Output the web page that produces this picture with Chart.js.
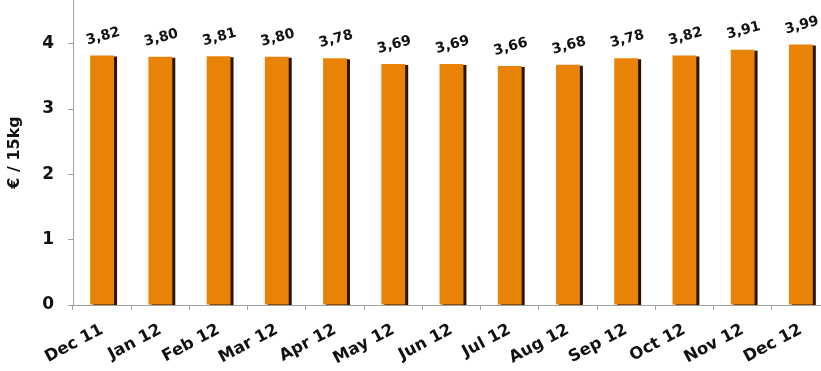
<!DOCTYPE html>
<html>
<head>
<meta charset="utf-8">
<script src="https://cdn.jsdelivr.net/npm/chart.js@4.4.1/dist/chart.umd.min.js"></script>
<style>
  html, body { margin: 0; padding: 0; background: #fff; overflow: hidden; }
  #wrap { width: 830px; height: 371px; position: relative; }
</style>
</head>
<body>
<div id="wrap"><canvas id="priceChart"></canvas></div>
<script>
const months = ['Dec 11', 'Jan 12', 'Feb 12', 'Mar 12', 'Apr 12', 'May 12', 'Jun 12',
  'Jul 12', 'Aug 12', 'Sep 12', 'Oct 12', 'Nov 12', 'Dec 12'];
const prices = [3.82, 3.80, 3.81, 3.80, 3.78, 3.69, 3.69, 3.66, 3.68, 3.78, 3.82, 3.91, 3.99];
const yTicks = [0, 1, 2, 3, 4];

const font = 'DejaVu Sans, Verdana, sans-serif';

// dark drop shadow on the right side of each bar
const barShadow = {
  id: 'barShadow',
  beforeDatasetsDraw(chart) {
    const ctx = chart.ctx;
    ctx.save();
    ctx.shadowColor = '#2a1503';
    ctx.shadowOffsetX = 3;
    ctx.shadowOffsetY = 1;
    ctx.shadowBlur = 0;
  },
  afterDatasetsDraw(chart) {
    chart.ctx.restore();
  }
};

// tilted value labels above bars
const valueLabels = {
  id: 'valueLabels',
  afterDatasetsDraw(chart) {
    const ctx = chart.ctx;
    const meta = chart.getDatasetMeta(0);
    ctx.save();
    ctx.font = 'bold 14px ' + font;
    ctx.fillStyle = '#111';
    ctx.textAlign = 'center';
    ctx.textBaseline = 'middle';
    meta.data.forEach((bar, i) => {
      ctx.save();
      ctx.translate(bar.x + 1, bar.y - 19);
      ctx.rotate(-15 * Math.PI / 180);
      ctx.fillText(prices[i].toFixed(2).replace('.', ','), 0, 0);
      ctx.restore();
    });
    ctx.restore();
  }
};

new Chart(document.getElementById('priceChart'), {
  type: 'bar',
  data: {
    labels: months,
    datasets: [{
      data: prices,
      backgroundColor: '#E98308',
      borderWidth: 0,
      categoryPercentage: 1,
      barPercentage: 0.41
    }]
  },
  options: {
    responsive: true,
    maintainAspectRatio: false,
    animation: false,
    layout: { padding: 0 },
    plugins: {
      legend: { display: false },
      tooltip: { enabled: false }
    },
    scales: {
      x: {
        grid: { drawOnChartArea: false, color: '#a0a0a0', tickLength: 5 },
        border: { color: '#a0a0a0' },
        ticks: {
          color: '#111',
          font: { family: font, size: 16.5, weight: 'bold' },
          minRotation: 28,
          maxRotation: 28,
          padding: 10
        },
        afterFit(scale) {
          scale.height = 66;
          scale.paddingLeft = 0;
          scale.paddingRight = 0;
        }
      },
      y: {
        min: 0,
        max: 4.67,
        grid: { drawOnChartArea: false, color: '#a0a0a0', tickLength: 5 },
        border: { color: '#a0a0a0' },
        afterBuildTicks(scale) {
          scale.ticks = yTicks.map(v => ({ value: v }));
        },
        ticks: {
          color: '#111',
          font: { family: font, size: 17, weight: 'bold' },
          padding: 14
        },
        title: {
          display: true,
          text: '€ / 15kg',
          color: '#111',
          font: { family: font, size: 16, weight: 'bold' },
          padding: { top: 5, bottom: 0 }
        },
        afterFit(scale) {
          scale.width = 73;
          scale.paddingTop = 0;
          scale.paddingBottom = 0;
        }
      }
    }
  },
  plugins: [barShadow, valueLabels]
});
</script>
</body>
</html>
